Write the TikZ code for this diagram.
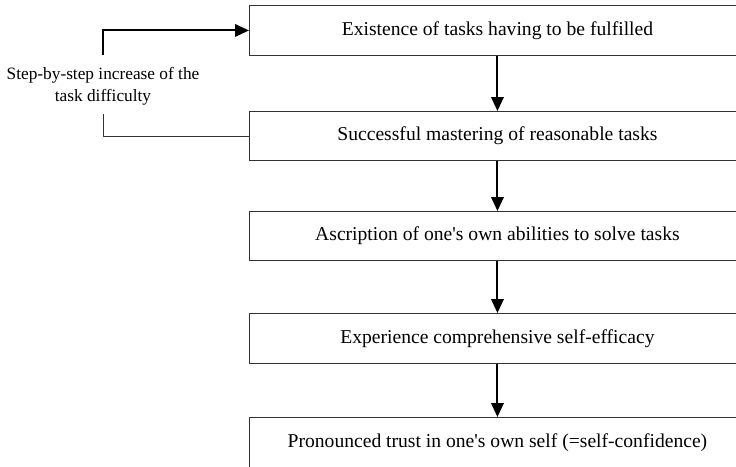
\documentclass[tikz,border=0pt]{standalone}
\usepackage{fontspec}
\setmainfont{Liberation Serif}[Ligatures=TeXOff]
\usetikzlibrary{arrows.meta}
\begin{document}
\begin{tikzpicture}[x=1pt,y=-1pt,
  stage/.style={draw=black!80, line width=0.9pt, anchor=north west,
    minimum width=496pt, inner sep=0pt, font=\fontsize{19.6}{22}\selectfont},
  flow/.style={line width=2pt, -{Triangle[length=14pt,width=12.5pt]}},
  loopback/.style={line width=2pt, -{Triangle[length=14pt,width=12.5pt]}},
  loopfeed/.style={line width=0.9pt, draw=black!80},
  note/.style={align=center, inner sep=0pt, font=\fontsize{17.3}{22}\selectfont}]
\useasboundingbox (0,0) rectangle (736,466);
\clip (0,0) rectangle (736,466);

% stages of the sequence
\node[stage, minimum height=50pt] (s1) at (249,5)   {Existence of tasks having to be fulfilled};
\node[stage, minimum height=49pt] (s2) at (249,111) {Successful mastering of reasonable tasks};
\node[stage, minimum height=49pt] (s3) at (249,211) {Ascription of one's own abilities to solve tasks};
\node[stage, minimum height=50pt] (s4) at (249,313) {Experience comprehensive self-efficacy};
\node[stage, minimum height=50pt] (s5) at (249,417) {Pronounced trust in one's own self (=self-confidence)};

% downward flow
\draw[flow] (s1) -- (s2);
\draw[flow] (s2) -- (s3);
\draw[flow] (s3) -- (s4);
\draw[flow] (s4) -- (s5);

% feedback loop with its label
\node[note] (lab) at (103,86) {Step-by-step increase of the\\task difficulty};
\coordinate (up) at (103,55);
\coordinate (dn) at (103,114);
\draw[loopback] (up) -- (up |- s1.west) -- (s1.west);
\draw[loopfeed] (dn) -- (dn |- s2.west) -- (s2.west);
\end{tikzpicture}
\end{document}
